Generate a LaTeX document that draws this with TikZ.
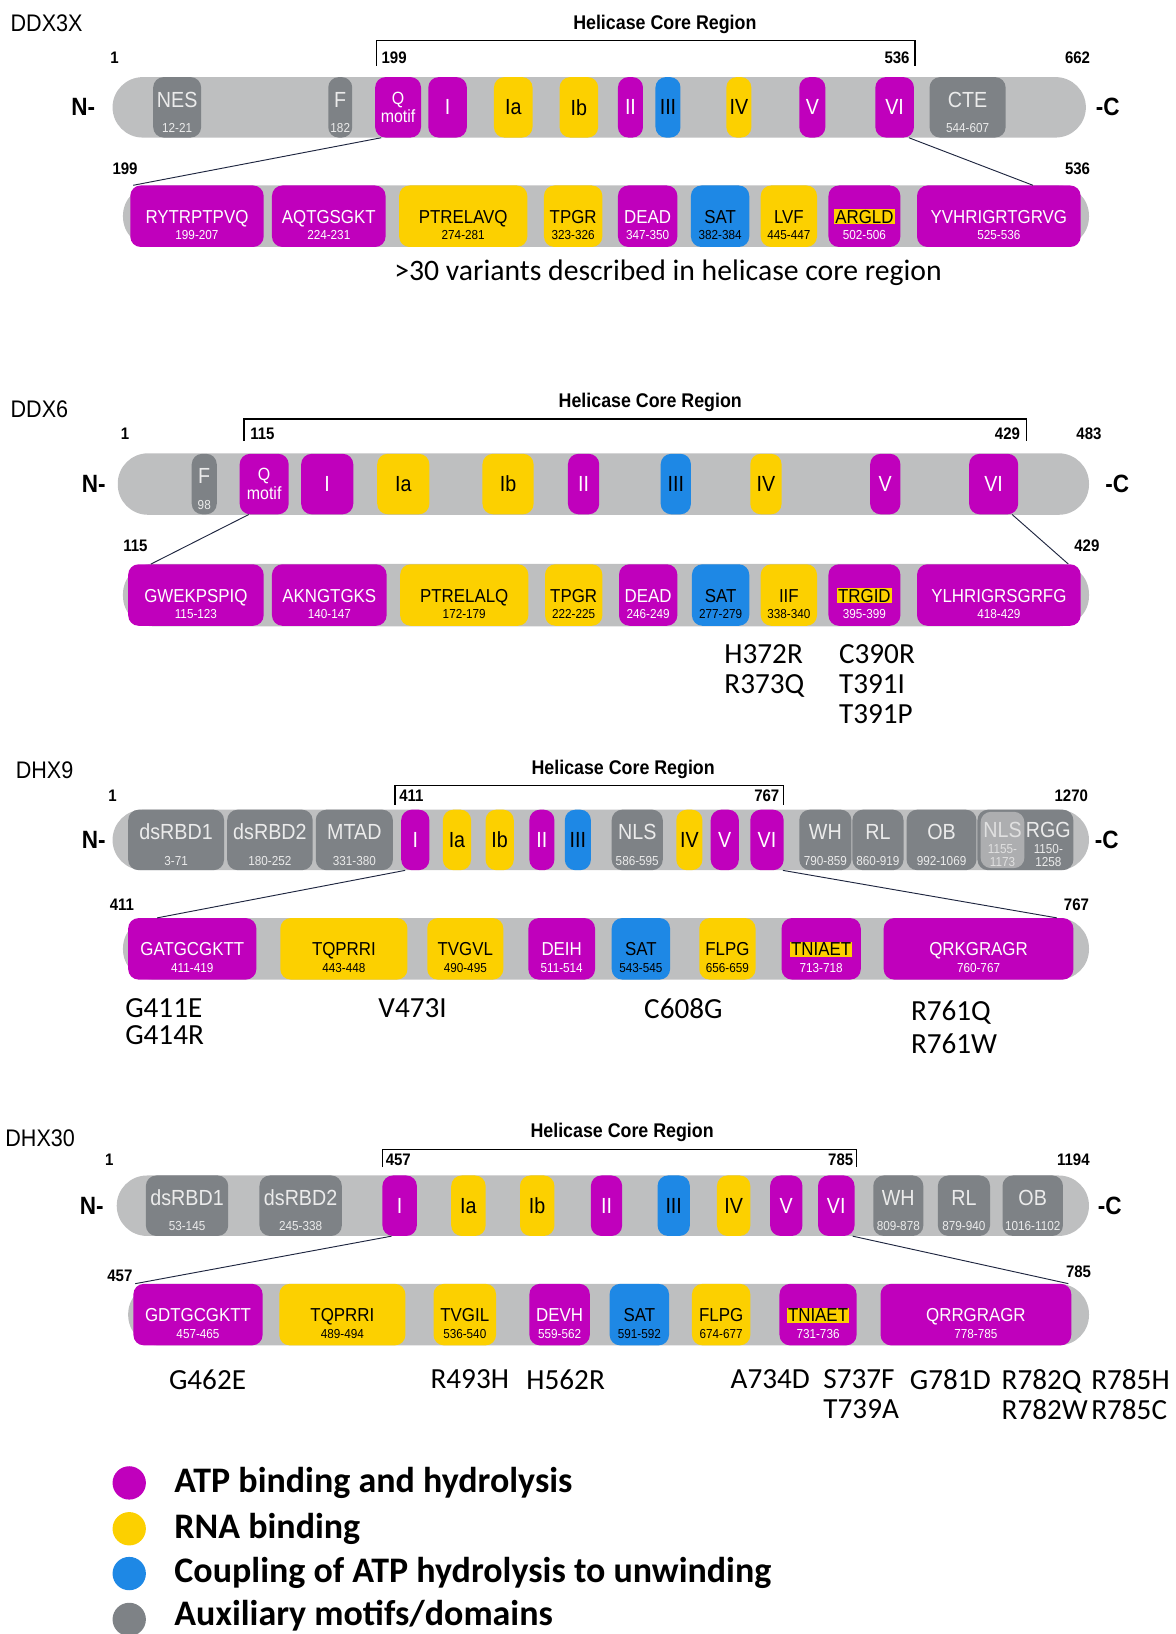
\documentclass[tikz,border=0pt]{standalone}
\usepackage{fontspec}
\setmainfont{Carlito}
\newfontfamily\rob[FakeStretch=0.9]{Liberation Sans}
\usetikzlibrary{positioning}
\definecolor{cAtp}{HTML}{C000BC}
\definecolor{cRna}{HTML}{FCD000}
\definecolor{cCpl}{HTML}{1E88E5}
\definecolor{cAux}{HTML}{7E8286}
\definecolor{cAuxLt}{HTML}{ADAEB0}
\definecolor{cBar}{HTML}{BEBFC0}
\definecolor{cLine}{HTML}{1F2640}
\newcommand{\rng}[1]{{\fontsize{12.5}{13}\selectfont #1}}
\newcommand{\auxtxt}[2]{\rule{0pt}{24pt}#1\\[2.5pt]\rng{#2}}
\newcommand{\seqtxt}[2]{\rule{0pt}{29.5pt}#1\\[-3pt]\rng{#2}}
\newcommand{\qmotif}{{\fontsize{17}{17}\selectfont Q}\\[-4pt]{\fontsize{17}{17}\selectfont motif}}
\newcommand{\hl}[1]{{\setlength{\fboxsep}{1pt}\colorbox{cRna}{\color{black}#1}}}
% motif box from x #1 to x #2 on the current row
\newcommand{\dom}[5]{\node[#3,minimum width={(#2-#1)*1pt}] (#4) at ({(#1+#2)/2},\rowy) {#5};}

\begin{document}
\begin{tikzpicture}[x=1pt,y=-1pt,
  motif/.style={rounded corners=10pt,inner sep=0pt,align=center,minimum height=58pt,font=\rob\fontsize{21}{22}\selectfont},
  atpbox/.style={motif,fill=cAtp,text=white},
  rnabox/.style={motif,fill=cRna,text=black},
  cplbox/.style={motif,fill=cCpl,text=black},
  auxbox/.style={motif,fill=cAux,text=white!92!black},
  seqbox/.style={minimum height=59pt,font=\rob\fontsize{18}{19}\selectfont},
  protein/.style={fill=cBar,rounded corners=29pt,minimum height=58pt,inner sep=0pt},
  genename/.style={anchor=west,inner sep=0pt,font=\rob\fontsize{23}{24}\selectfont},
  coretext/.style={font=\rob\bfseries\fontsize{19}{20}\selectfont},
  bracketline/.style={line width=1.3pt},
  posnum/.style={inner sep=0pt,font=\rob\bfseries\fontsize{16}{17}\selectfont},
  termtext/.style={font=\rob\bfseries\fontsize{24}{25}\selectfont},
  zoomline/.style={draw=cLine,line width=0.9pt},
  muttext/.style={anchor=north west,inner sep=0pt,align=left,font=\fontsize{28}{29}\selectfont},
  keydot/.style={circle,inner sep=0pt,minimum size=32pt},
  keytext/.style={inner sep=0pt,font=\bfseries\fontsize{34.5}{36}\selectfont}]
\useasboundingbox (0,0) rectangle (1128,1568);

% DDX3X
\node[genename] (g1) at (10,22) {DDX3X};
\node[coretext] (c1) at (638,23) {Helicase Core Region};
\draw[bracketline] (361,63) |- (878,39) -- (878,63);
\node[posnum] (s1) at (110,55) {1};
\node[posnum,anchor=west] (s1b) at (366,55) {199};
\node[posnum,anchor=east] (s1e) at (873,55) {536};
\node[posnum] (s1c) at (1034,55) {662};
\node[termtext] (n1) at (80,103) {N-};
\node[termtext] (e1) at (1063,103) {-C};
\node[protein,minimum width=934pt] (p1) at (575,103) {};
\def\rowy{103}
\dom{147}{193}{auxbox}{u1-1}{\auxtxt{NES}{12-21}}
\dom{315}{338}{auxbox}{u1-2}{\auxtxt{F}{182}}
\dom{360}{404}{atpbox}{u1-3}{\qmotif}
\dom{411}{448}{atpbox}{u1-4}{I}
\dom{474}{511}{rnabox}{u1-5}{Ia}
\dom{537}{574}{rnabox}{u1-6}{Ib}
\dom{593}{617}{atpbox}{u1-7}{II}
\dom{629}{653}{cplbox}{u1-8}{III}
\dom{697}{721}{rnabox}{u1-9}{IV}
\dom{767}{792}{atpbox}{u1-10}{V}
\dom{840}{877}{atpbox}{u1-11}{VI}
\dom{892}{965}{auxbox}{u1-12}{\auxtxt{CTE}{544-607}}
\node[posnum] (l1b) at (120,162) {199};
\node[posnum] (l1e) at (1034,162) {536};
\node[protein,minimum width=927pt,minimum height=59pt] (q1) at (581.5,207.5) {};
\def\rowy{207.5}
\dom{125}{253}{atpbox,seqbox}{w1-1}{\seqtxt{RYTRPTPVQ}{199-207}}
\dom{261}{370}{atpbox,seqbox}{w1-2}{\seqtxt{AQTGSGKT}{224-231}}
\dom{383}{506}{rnabox,seqbox}{w1-3}{\seqtxt{PTRELAVQ}{274-281}}
\dom{522}{578}{rnabox,seqbox}{w1-4}{\seqtxt{TPGR}{323-326}}
\dom{593}{650}{atpbox,seqbox}{w1-5}{\seqtxt{DEAD}{347-350}}
\dom{663}{719}{cplbox,seqbox}{w1-6}{\seqtxt{SAT}{382-384}}
\dom{730}{784}{rnabox,seqbox}{w1-7}{\seqtxt{LVF}{445-447}}
\dom{795}{864}{atpbox,seqbox}{w1-8}{\seqtxt{\hl{ARGLD}}{502-506}}
\dom{880}{1037}{atpbox,seqbox}{w1-9}{\seqtxt{YVHRIGRTGRVG}{525-536}}
\draw[zoomline] ([xshift=6pt]u1-3.south west) -- ([xshift=3pt]w1-1.north west);
\draw[zoomline] ([xshift=-5pt]u1-11.south east) -- ([xshift=-46pt]w1-9.north east);
\node[font=\fontsize{28.5}{30}\selectfont] (v1) at (641,262) {>30 variants described in helicase core region};

% DDX6
\node[genename] (g2) at (10,393) {DDX6};
\node[coretext] (c2) at (624,386) {Helicase Core Region};
\draw[bracketline] (234,423) |- (985,402) -- (985,423);
\node[posnum] (s2) at (120,416) {1};
\node[posnum,anchor=west] (s2b) at (240,416) {115};
\node[posnum,anchor=east] (s2e) at (979,416) {429};
\node[posnum] (s2c) at (1045,416) {483};
\node[termtext] (n2) at (90,464.5) {N-};
\node[termtext] (e2) at (1072,464.5) {-C};
\node[protein,minimum width=932pt,minimum height=59pt] (p2) at (579,464.5) {};
\def\rowy{464.5}
\dom{184}{208}{auxbox}{u2-1}{\auxtxt{F}{98}}
\dom{230}{277}{atpbox}{u2-2}{\qmotif}
\dom{289}{339}{atpbox}{u2-3}{I}
\dom{362}{412}{rnabox}{u2-4}{Ia}
\dom{463}{512}{rnabox}{u2-5}{Ib}
\dom{545}{575}{atpbox}{u2-6}{II}
\dom{634}{663}{cplbox}{u2-7}{III}
\dom{720}{750}{rnabox}{u2-8}{IV}
\dom{835}{864}{atpbox}{u2-9}{V}
\dom{930}{977}{atpbox}{u2-10}{VI}
\node[posnum] (l2b) at (130,524) {115};
\node[posnum] (l2e) at (1043,524) {429};
\node[protein,minimum width=927pt,minimum height=60pt] (q2) at (581.5,571) {};
\def\rowy{571}
\dom{123}{253}{atpbox,seqbox}{w2-1}{\seqtxt{GWEKPSPIQ}{115-123}}
\dom{261}{371}{atpbox,seqbox}{w2-2}{\seqtxt{AKNGTGKS}{140-147}}
\dom{384}{507}{rnabox,seqbox}{w2-3}{\seqtxt{PTRELALQ}{172-179}}
\dom{523}{578}{rnabox,seqbox}{w2-4}{\seqtxt{TPGR}{222-225}}
\dom{594}{650}{atpbox,seqbox}{w2-5}{\seqtxt{DEAD}{246-249}}
\dom{664}{719}{cplbox,seqbox}{w2-6}{\seqtxt{SAT}{277-279}}
\dom{730}{784}{rnabox,seqbox}{w2-7}{\seqtxt{IIF}{338-340}}
\dom{795}{864}{atpbox,seqbox}{w2-8}{\seqtxt{\hl{TRGID}}{395-399}}
\dom{880}{1037}{atpbox,seqbox}{w2-9}{\seqtxt{YLHRIGRSGRFG}{418-429}}
\draw[zoomline] ([xshift=9pt]u2-2.south west) -- ([xshift=22pt]w2-1.north west);
\draw[zoomline] ([xshift=-6pt]u2-10.south east) -- ([xshift=-12pt]w2-9.north east);
\node[muttext] (m2a) at (695,618) {H372R\\R373Q};
\node[muttext] (m2b) at (805,618) {C390R\\T391I\\T391P};

% DHX9
\node[genename] (g3) at (15,739) {DHX9};
\node[coretext] (c3) at (598,738) {Helicase Core Region};
\draw[bracketline] (379,772) |- (752,754) -- (752,772);
\node[posnum] (s3) at (108,764) {1};
\node[posnum,anchor=west] (s3b) at (383,764) {411};
\node[posnum,anchor=east] (s3e) at (748,764) {767};
\node[posnum] (s3c) at (1028,764) {1270};
\node[termtext] (n3) at (90,806) {N-};
\node[termtext] (e3) at (1062,806) {-C};
\node[protein,minimum width=937pt] (p3) at (576.5,806) {};
\def\rowy{806}
\dom{123}{215}{auxbox}{u3-1}{\auxtxt{dsRBD1}{3-71}}
\dom{218}{300}{auxbox}{u3-2}{\auxtxt{dsRBD2}{180-252}}
\dom{303}{377}{auxbox}{u3-3}{\auxtxt{MTAD}{331-380}}
\dom{385}{412}{atpbox}{u3-4}{I}
\dom{425}{452}{rnabox}{u3-5}{Ia}
\dom{466}{493}{rnabox}{u3-6}{Ib}
\dom{508}{532}{atpbox}{u3-7}{II}
\dom{542}{567}{cplbox}{u3-8}{III}
\dom{587}{636}{auxbox}{u3-9}{\auxtxt{NLS}{586-595}}
\dom{649}{674}{rnabox}{u3-10}{IV}
\dom{682}{709}{atpbox}{u3-11}{V}
\dom{720}{752}{atpbox}{u3-12}{VI}
\dom{767}{817}{auxbox}{u3-13}{\auxtxt{WH}{790-859}}
\dom{818}{867}{auxbox}{u3-14}{\auxtxt{RL}{860-919}}
\dom{870}{937}{auxbox}{u3-15}{\auxtxt{OB}{992-1069}}
\dom{938}{1030}{auxbox}{u3-16}{}
\dom{941}{983}{motif,fill=cAuxLt,text=white!88!black,minimum height=54pt}{u3-17}{\rule{0pt}{23pt}NLS\\[-6pt]\rng{1155-}\\[-10pt]\rng{1173}}
\node[motif,text=white!92!black] (u3-18) at (1006,806) {\rule{0pt}{23pt}RGG\\[-6pt]\rng{1150-}\\[-10pt]\rng{1258}};
\node[posnum] (l3b) at (117,868) {411};
\node[posnum] (l3e) at (1033,868) {767};
\node[protein,minimum width=927pt,minimum height=59pt] (q3) at (581.5,910.5) {};
\def\rowy{910.5}
\dom{123}{246}{atpbox,seqbox}{w3-1}{\seqtxt{GATGCGKTT}{411-419}}
\dom{269}{391}{rnabox,seqbox}{w3-2}{\seqtxt{TQPRRI}{443-448}}
\dom{410}{483}{rnabox,seqbox}{w3-3}{\seqtxt{TVGVL}{490-495}}
\dom{507}{571}{atpbox,seqbox}{w3-4}{\seqtxt{DEIH}{511-514}}
\dom{587}{643}{cplbox,seqbox}{w3-5}{\seqtxt{SAT}{543-545}}
\dom{671}{725}{rnabox,seqbox}{w3-6}{\seqtxt{FLPG}{656-659}}
\dom{750}{826}{atpbox,seqbox}{w3-7}{\seqtxt{\hl{TNIAET}}{713-718}}
\dom{848}{1030}{atpbox,seqbox}{w3-8}{\seqtxt{QRKGRAGR}{760-767}}
\draw[zoomline] ([xshift=4pt]u3-4.south west) -- ([xshift=28pt]w3-1.north west);
\draw[zoomline] ([xshift=-1pt]u3-12.south east) -- ([xshift=-16pt]w3-8.north east);
\node[muttext] (m3a) at (120,958) {G411E\\[-3pt]G414R};
\node[muttext] (m3b) at (363,958) {V473I};
\node[muttext] (m3c) at (618,958) {C608G};
\node[muttext] (m3d) at (874,960) {R761Q\\[3pt]R761W};

% DHX30
\node[genename] (g4) at (5,1092) {DHX30};
\node[coretext] (c4) at (597,1087) {Helicase Core Region};
\draw[bracketline] (367,1120) |- (822,1103) -- (822,1120);
\node[posnum] (s4) at (105,1113) {1};
\node[posnum,anchor=west] (s4b) at (370,1113) {457};
\node[posnum,anchor=east] (s4e) at (819,1113) {785};
\node[posnum] (s4c) at (1030,1113) {1194};
\node[termtext] (n4) at (88,1157) {N-};
\node[termtext] (e4) at (1065,1157) {-C};
\node[protein,minimum width=933pt] (p4) at (578.5,1157) {};
\def\rowy{1157}
\dom{140}{219}{auxbox}{u4-1}{\auxtxt{dsRBD1}{53-145}}
\dom{249}{328}{auxbox}{u4-2}{\auxtxt{dsRBD2}{245-338}}
\dom{367}{400}{atpbox}{u4-3}{I}
\dom{433}{466}{rnabox}{u4-4}{Ia}
\dom{499}{532}{rnabox}{u4-5}{Ib}
\dom{567}{597}{atpbox}{u4-6}{II}
\dom{631}{662}{cplbox}{u4-7}{III}
\dom{688}{720}{rnabox}{u4-8}{IV}
\dom{739}{770}{atpbox}{u4-9}{V}
\dom{785}{820}{atpbox}{u4-10}{VI}
\dom{838}{886}{auxbox}{u4-11}{\auxtxt{WH}{809-878}}
\dom{900}{950}{auxbox}{u4-12}{\auxtxt{RL}{879-940}}
\dom{962}{1020}{auxbox}{u4-13}{\auxtxt{OB}{1016-1102}}
\node[posnum] (l4b) at (115,1224) {457};
\node[posnum] (l4e) at (1035,1220) {785};
\node[protein,minimum width=922pt,minimum height=59pt] (q4) at (584,1261.5) {};
\def\rowy{1261.5}
\dom{128}{252}{atpbox,seqbox}{w4-1}{\seqtxt{GDTGCGKTT}{457-465}}
\dom{268}{389}{rnabox,seqbox}{w4-2}{\seqtxt{TQPRRI}{489-494}}
\dom{416}{476}{rnabox,seqbox}{w4-3}{\seqtxt{TVGIL}{536-540}}
\dom{508}{566}{atpbox,seqbox}{w4-4}{\seqtxt{DEVH}{559-562}}
\dom{585}{642}{cplbox,seqbox}{w4-5}{\seqtxt{SAT}{591-592}}
\dom{664}{720}{rnabox,seqbox}{w4-6}{\seqtxt{FLPG}{674-677}}
\dom{748}{822}{atpbox,seqbox}{w4-7}{\seqtxt{\hl{TNIAET}}{731-736}}
\dom{845}{1028}{atpbox,seqbox}{w4-8}{\seqtxt{QRRGRAGR}{778-785}}
\draw[zoomline] ([xshift=9pt]u4-3.south west) -- ([xshift=2pt]w4-1.north west);
\draw[zoomline] ([xshift=-2pt]u4-10.south east) -- ([xshift=-3pt]w4-8.north east);
\node[muttext] (m4a) at (162,1314) {G462E};
\node[muttext] (m4b) at (413,1314) {R493H};
\node[muttext] (m4c) at (505,1314) {H562R};
\node[muttext] (m4d) at (701,1314) {A734D};
\node[muttext] (m4e) at (790,1314) {S737F\\T739A};
\node[muttext] (m4f) at (873,1314) {G781D};
\node[muttext] (m4g) at (961,1314) {R782Q\\R782W};
\node[muttext] (m4h) at (1047,1314) {R785H\\R785C};

% legend
\node[keydot,fill=cAtp] (k1) at (124,1423) {};
\node[keydot,fill=cRna] (k2) at (124,1467) {};
\node[keydot,fill=cCpl] (k3) at (124,1510) {};
\node[keydot,fill=cAux] (k4) at (124,1554) {};
\node[keytext,right=27pt of k1] (k1t) {ATP binding and hydrolysis};
\node[keytext,right=27pt of k2] (k2t) {RNA binding};
\node[keytext,right=27pt of k3,yshift=1pt] (k3t) {Coupling of ATP hydrolysis to unwinding};
\node[keytext,right=27pt of k4,yshift=4pt] (k4t) {Auxiliary motifs/domains};
\end{tikzpicture}
\end{document}
